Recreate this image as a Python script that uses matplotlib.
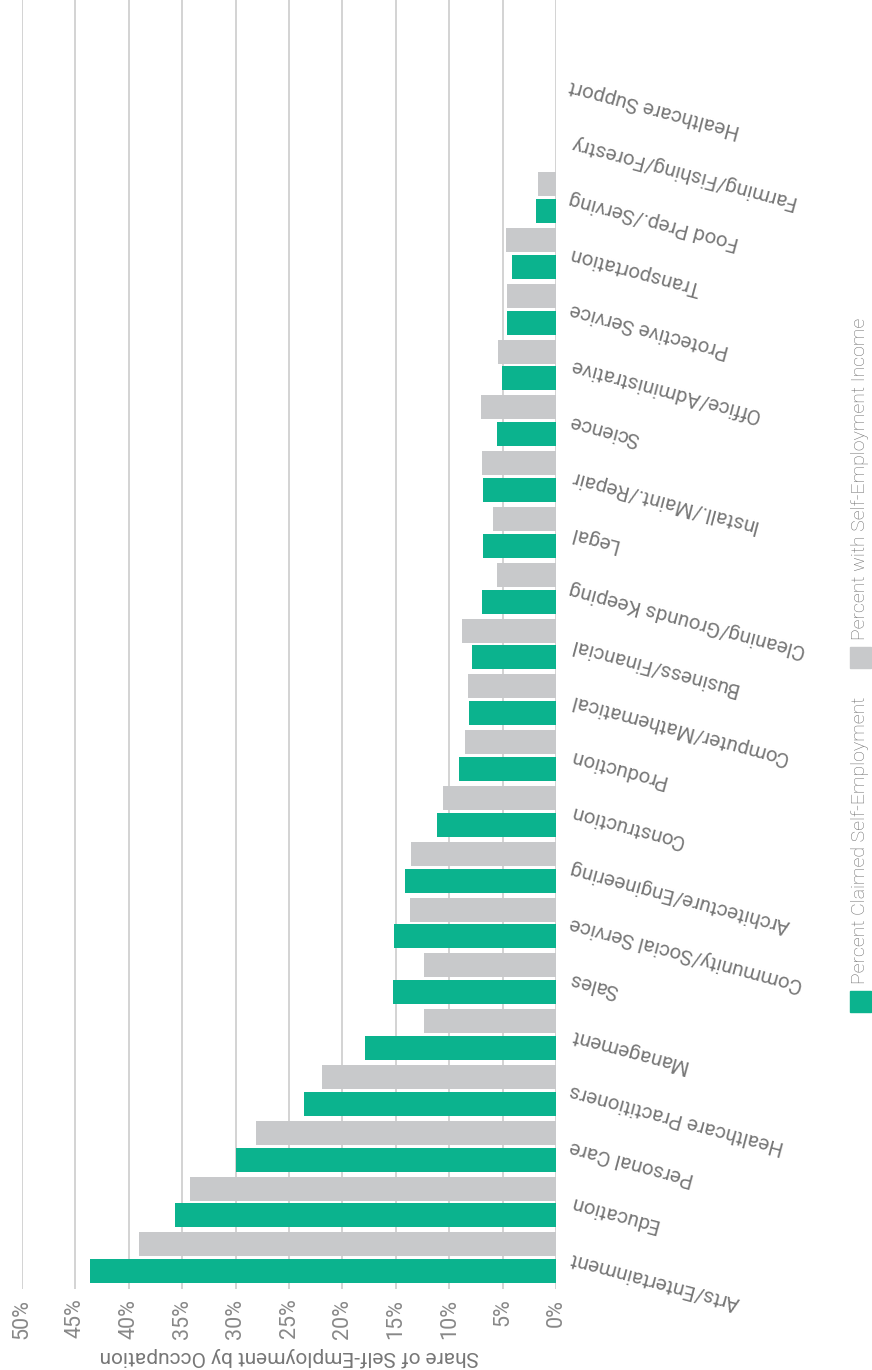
import matplotlib
matplotlib.use("Agg")
import matplotlib.pyplot as plt
import numpy as np
from matplotlib.patches import Rectangle

plt.rcParams['font.family'] = ['Roboto', 'DejaVu Sans']

# categories, bottom to top
occupations = [
    "Arts/Entertainment", "Education", "Personal Care", "Healthcare Practitioners",
    "Management", "Sales", "Community/Social Service", "Architecture/Engineering",
    "Construction", "Production", "Computer/Mathematical", "Business/Financial",
    "Cleaning/Grounds Keeping", "Legal", "Install./Maint./Repair", "Science",
    "Office/Administrative", "Protective Service", "Transportation",
    "Food Prep./Serving", "Farming/Fishing/Forestry", "Healthcare Support",
]
claimed = [43.6, 35.7, 30.0, 23.6, 17.9, 15.3, 15.2, 14.1, 11.1, 9.1, 8.1, 7.9,
           6.9, 6.8, 6.8, 5.5, 5.1, 4.6, 4.1, 1.9, 0.0, 0.0]
income = [39.0, 34.3, 28.1, 21.9, 12.4, 12.4, 13.7, 13.6, 10.6, 8.5, 8.2, 8.8,
          5.5, 5.9, 6.9, 7.0, 5.4, 4.6, 4.7, 1.7, 0.0, 0.0]
series = ["Percent Claimed Self-Employment", "Percent with Self-Employment Income"]
colors = ["#0bb38e", "#c8c9cb"]
xticks = np.arange(0, 55, 5)

W, H = 872, 1370
fig = plt.figure(figsize=(W / 100, H / 100), dpi=100)
ax = fig.add_axes([22 / W, 1 - 1289 / H, (556 - 22) / W, 1289 / H])

y = np.arange(len(occupations))
bh = 0.43
ax.barh(y - 0.24, claimed, height=bh, color=colors[0], zorder=3)
ax.barh(y + 0.24, income, height=bh, color=colors[1], zorder=3)

ax.set_xlim(50, 0)
ax.set_ylim(-0.56, 22.54)
ax.set_xticks(xticks)
ax.set_xticklabels([f"{t}%" for t in xticks], rotation=90, va="top", ha="center",
                   fontsize=15.5, color="#888888")
ax.xaxis.grid(True, color="#d0d0d0", lw=1.3, zorder=0)
ax.tick_params(axis="x", length=0, pad=7)

ax.yaxis.tick_right()
ax.set_yticks(y)
ax.set_yticklabels(occupations, rotation=165, rotation_mode="anchor",
                   ha="right", va="center", fontsize=14.8, color="#777777")
ax.tick_params(axis="y", length=0, pad=10)

for s in ax.spines.values():
    s.set_visible(False)

ax.set_xlabel("Share of Self-Employment by Occupation", rotation=180,
              fontsize=15, color="#777777", labelpad=6)

# legend, rotated along the right edge
lx = 850 / W
ys = [1012, 668]
for name, c, yp in zip(series, colors, ys):
    fig.patches.append(Rectangle((lx, 1 - yp / H), 21 / W, 21 / H,
                                 transform=fig.transFigure, color=c))
    fig.text(lx + 10 / W, 1 - (yp - 28) / H, name, rotation=90, ha="center",
             va="bottom", fontsize=14, color="#707070", fontweight="light")

fig.savefig("out.png", dpi=100)
